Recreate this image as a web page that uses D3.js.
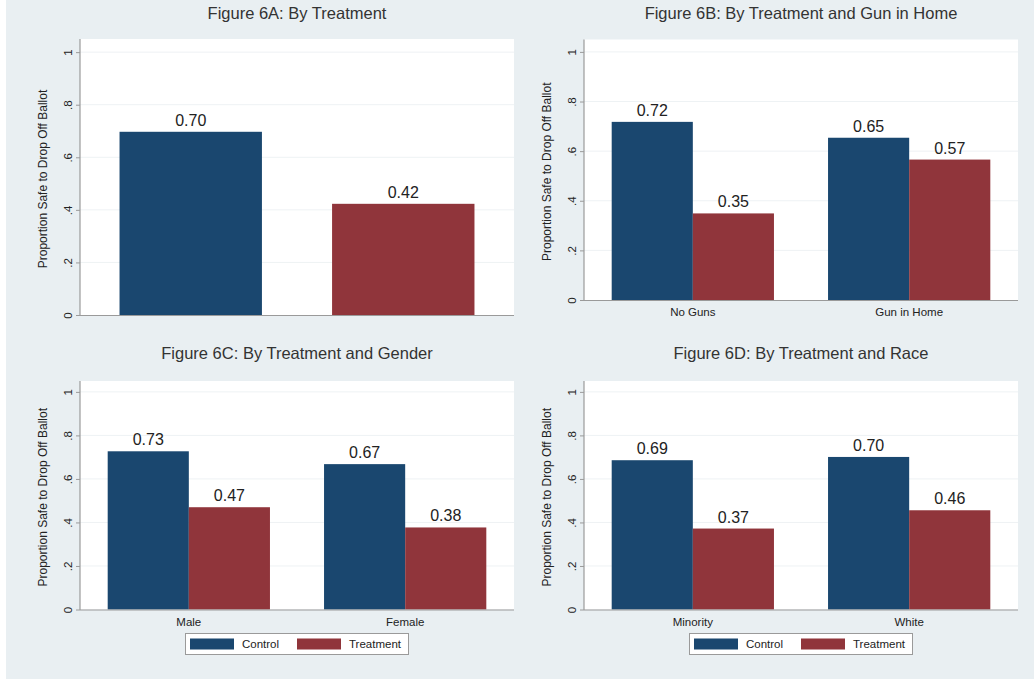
<!DOCTYPE html>
<html>
<head>
<meta charset="utf-8">
<script src="https://cdn.jsdelivr.net/npm/d3@7"></script>
<style>
  html, body { margin: 0; padding: 0; background: #ffffff; }
  svg { display: block; font-family: Arial, "Liberation Sans", Helvetica, sans-serif; }
</style>
</head>
<body>
<svg id="chart" width="1034" height="681"></svg>
<script>
// ---------------- DATA ----------------
const seriesNames = ["Control", "Treatment"];
const yTickValues = [0, 0.2, 0.4, 0.6, 0.8, 1];
const yTickLabels = ["0", ".2", ".4", ".6", ".8", "1"];
const yAxisTitle = "Proportion Safe to Drop Off Ballot";

const titleA = "Figure 6A: By Treatment";
const valuesA = [0.697, 0.423];               // Control, Treatment

const titleB = "Figure 6B: By Treatment and Gun in Home";
const groupsB = ["No Guns", "Gun in Home"];
const controlB = [0.718, 0.654];
const treatmentB = [0.349, 0.566];

const titleC = "Figure 6C: By Treatment and Gender";
const groupsC = ["Male", "Female"];
const controlC = [0.727, 0.668];
const treatmentC = [0.470, 0.377];

const titleD = "Figure 6D: By Treatment and Race";
const groupsD = ["Minority", "White"];
const controlD = [0.686, 0.701];
const treatmentD = [0.372, 0.456];

// ---------------- STYLE ----------------
const colors = { Control: "#1a476f", Treatment: "#90353b" };
const bgColor = "#e9eff2";
const axisColor = "#9a9a9a";
const gridColor = "#eef2f4";
const textColor = "#222";

const svg = d3.select("#chart");
svg.append("rect").attr("x", 6).attr("y", 0).attr("width", 1028).attr("height", 679).attr("fill", bgColor);

const fmt = d3.format(".2f");

function drawPanel(cfg) {
  const { x0, x1, yTop, yZero, title, titleY } = cfg;
  const g = svg.append("g");
  const y = d3.scaleLinear().domain([0, 1.05]).range([yZero, yTop]);

  // plot region
  g.append("rect").attr("x", x0).attr("y", yTop).attr("width", x1 - x0).attr("height", yZero - yTop).attr("fill", "#ffffff");

  // gridlines
  g.selectAll(".grid").data(yTickValues.filter(d => d > 0)).join("line")
    .attr("x1", x0).attr("x2", x1)
    .attr("y1", d => y(d)).attr("y2", d => y(d))
    .attr("stroke", gridColor).attr("stroke-width", 1);

  // bars
  if (cfg.single) {
    const xb = d3.scaleBand().domain(seriesNames).range([x0, x1]).paddingInner(0.33).paddingOuter(0.186);
    const data = seriesNames.map((s, i) => ({ s, v: cfg.values[i] }));
    g.selectAll(".bar").data(data).join("rect")
      .attr("x", d => xb(d.s)).attr("width", xb.bandwidth())
      .attr("y", d => y(d.v)).attr("height", d => y(0) - y(d.v))
      .attr("fill", d => colors[d.s]);
    g.selectAll(".lbl").data(data).join("text")
      .attr("x", d => xb(d.s) + xb.bandwidth() / 2).attr("y", d => y(d.v) - 6)
      .attr("text-anchor", "middle").attr("font-size", 16).attr("fill", textColor)
      .text(d => fmt(d.v));
  } else {
    const xg = d3.scaleBand().domain(cfg.groups).range([x0, x1]).paddingInner(0.25).paddingOuter(0.128);
    const xs = d3.scaleBand().domain(seriesNames).range([0, xg.bandwidth()]).padding(0);
    const data = [];
    cfg.groups.forEach((grp, i) => {
      data.push({ grp, s: "Control", v: cfg.control[i] });
      data.push({ grp, s: "Treatment", v: cfg.treatment[i] });
    });
    g.selectAll(".bar").data(data).join("rect")
      .attr("x", d => xg(d.grp) + xs(d.s)).attr("width", xs.bandwidth())
      .attr("y", d => y(d.v)).attr("height", d => y(0) - y(d.v))
      .attr("fill", d => colors[d.s]);
    g.selectAll(".lbl").data(data).join("text")
      .attr("x", d => xg(d.grp) + xs(d.s) + xs.bandwidth() / 2).attr("y", d => y(d.v) - 6)
      .attr("text-anchor", "middle").attr("font-size", 16).attr("fill", textColor)
      .text(d => fmt(d.v));
    // x axis category labels
    g.selectAll(".cat").data(cfg.groups).join("text")
      .attr("x", d => xg(d) + xg.bandwidth() / 2).attr("y", yZero + 16)
      .attr("text-anchor", "middle").attr("font-size", 11.5).attr("fill", textColor)
      .text(d => d);
  }

  // x axis line
  g.append("line").attr("x1", x0).attr("x2", x1).attr("y1", yZero + 0.5).attr("y2", yZero + 0.5)
    .attr("stroke", axisColor).attr("stroke-width", 1.2);

  // y axis via d3.axisLeft
  const ax = d3.axisLeft(y).tickValues(yTickValues).tickSize(4).tickFormat((d, i) => yTickLabels[i]);
  const axG = g.append("g").attr("transform", `translate(${x0},0)`).call(ax);
  axG.select(".domain").attr("stroke", axisColor).attr("stroke-width", 1.2)
    .attr("d", `M0,${yZero + 0.5}V${yTop}`);
  axG.selectAll(".tick line").attr("stroke", axisColor);
  axG.selectAll(".tick text")
    .attr("font-size", 11.5).attr("fill", textColor).attr("font-family", "Arial, 'Liberation Sans', sans-serif")
    .attr("x", null).attr("dy", null)
    .attr("text-anchor", "middle")
    .attr("transform", "translate(-12,0) rotate(-90)")
    .attr("y", 4);

  // y axis title
  g.append("text")
    .attr("transform", `translate(${x0 - 33},${(yTop + yZero) / 2 + 2}) rotate(-90)`)
    .attr("text-anchor", "middle").attr("font-size", 12).attr("fill", textColor)
    .text(yAxisTitle);

  // panel title
  g.append("text").attr("x", (x0 + x1) / 2).attr("y", titleY)
    .attr("text-anchor", "middle").attr("font-size", 16.5).attr("fill", "#333")
    .text(title);

  // legend
  if (cfg.legend) {
    const lx = (x0 + x1) / 2 - 112, ly = 633;
    const lg = g.append("g").attr("transform", `translate(${lx},${ly})`);
    lg.append("rect").attr("x", 0.5).attr("y", 0.5).attr("width", 223).attr("height", 21)
      .attr("fill", "#ffffff").attr("stroke", "#9a9a9a").attr("stroke-width", 1);
    const items = lg.selectAll(".li").data(seriesNames).join("g")
      .attr("transform", (d, i) => `translate(${5 + i * 107},0)`);
    items.append("rect").attr("x", 0).attr("y", 5.5).attr("width", 44).attr("height", 11)
      .attr("fill", d => colors[d]);
    items.append("text").attr("x", 52).attr("y", 15).attr("font-size", 11.5).attr("fill", textColor)
      .text(d => d);
  }
}

drawPanel({ single: true, values: valuesA, title: titleA, x0: 80, x1: 514, yTop: 39, yZero: 315, titleY: 19 });
drawPanel({ groups: groupsB, control: controlB, treatment: treatmentB, title: titleB, x0: 584, x1: 1018, yTop: 39.5, yZero: 300, titleY: 19 });
drawPanel({ groups: groupsC, control: controlC, treatment: treatmentC, title: titleC, x0: 80, x1: 514, yTop: 381, yZero: 609.5, titleY: 359, legend: true });
drawPanel({ groups: groupsD, control: controlD, treatment: treatmentD, title: titleD, x0: 584, x1: 1018, yTop: 381, yZero: 609.5, titleY: 359, legend: true });
</script>
</body>
</html>
